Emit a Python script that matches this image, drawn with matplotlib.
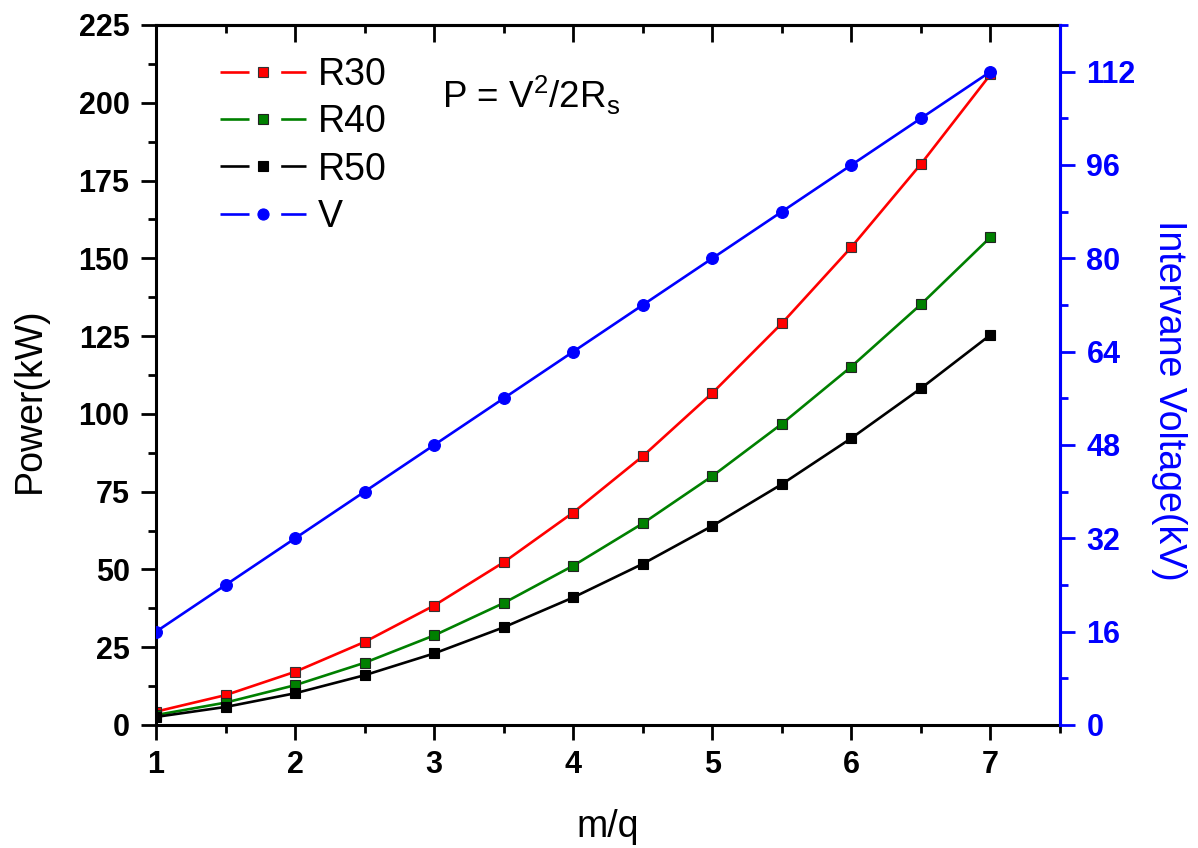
import matplotlib
matplotlib.use("Agg")
import matplotlib.pyplot as plt
from matplotlib.lines import Line2D
from matplotlib.ticker import FixedLocator, MultipleLocator

plt.rcParams['font.family'] = ['Liberation Sans', 'DejaVu Sans']

mq = [1.0, 1.5, 2.0, 2.5, 3.0, 3.5, 4.0, 4.5, 5.0, 5.5, 6.0, 6.5, 7.0]
p_r30 = [4.3, 9.6, 17.1, 26.7, 38.4, 52.3, 68.3, 86.4, 106.7, 129.1, 153.6, 180.3, 209.1]
p_r40 = [3.2, 7.2, 12.8, 20.0, 28.8, 39.2, 51.2, 64.8, 80.0, 96.8, 115.2, 135.2, 156.8]
p_r50 = [2.6, 5.8, 10.2, 16.0, 23.0, 31.4, 41.0, 51.8, 64.0, 77.4, 92.2, 108.2, 125.4]
voltage = [16, 24, 32, 40, 48, 56, 64, 72, 80, 88, 96, 104, 112]

x_major = [1, 2, 3, 4, 5, 6, 7]
x_minor = [1.5, 2.5, 3.5, 4.5, 5.5, 6.5, 7.5]
y_left_ticks = [0, 25, 50, 75, 100, 125, 150, 175, 200, 225]
y_right_ticks = [0, 16, 32, 48, 64, 80, 96, 112]

W, H = 1198, 848
fig = plt.figure(figsize=(W / 100, H / 100), dpi=100)
ax = fig.add_axes([156 / W, (H - 725) / H, (1060 - 156) / W, 700 / H])
ax2 = ax.twinx()

lw = 1.9
series = [
    (ax, p_r30, '#ff0000', '#333333', 's', 7.5, 'R30'),
    (ax, p_r40, '#008000', '#222222', 's', 7.5, 'R40'),
    (ax, p_r50, '#000000', '#000000', 's', 7.5, 'R50'),
    (ax2, voltage, '#0000ff', '#0000ff', 'o', 8.5, 'V'),
]
handles, labels = [], []
for a, vals, c, ec, m, ms, lab in series:
    a.plot(mq, vals, color=c, lw=lw, marker=m, ms=ms, mfc=c, mec=ec, mew=0.8)
    seg = Line2D([], [], color=c, lw=lw, linestyle=(0, (11, 12, 11, 200)))
    mk = Line2D([], [], color=c, lw=0, marker=m, ms=ms - 0.5, mfc=c, mec=ec, mew=0.8)
    handles.append((seg, mk))
    labels.append(lab)

ax.set_xlim(1, 7.5)
ax.set_ylim(0, 225)
ax2.set_ylim(0, 120)

ax.xaxis.set_major_locator(FixedLocator(x_major))
ax.xaxis.set_minor_locator(FixedLocator(x_minor))
ax.yaxis.set_major_locator(FixedLocator(y_left_ticks))
ax.yaxis.set_minor_locator(MultipleLocator(12.5))
ax2.yaxis.set_major_locator(FixedLocator(y_right_ticks))
ax2.yaxis.set_minor_locator(MultipleLocator(8))

ax.tick_params(axis='both', which='major', direction='out', length=11, width=2,
               labelsize=22)
ax.tick_params(axis='y', which='major', pad=8)
ax.tick_params(axis='x', which='major', pad=7)
ax.tick_params(axis='both', which='minor', direction='out', length=6, width=2)
for lbl in ax.get_xticklabels() + ax.get_yticklabels():
    lbl.set_fontweight('bold')

ax2.tick_params(axis='y', which='major', direction='out', length=11, width=2,
                labelsize=22, colors='#0000ff', pad=8)
ax2.tick_params(axis='y', which='minor', direction='out', length=6, width=2,
                colors='#0000ff')
for lbl in ax2.get_yticklabels():
    lbl.set_fontweight('bold')

# top axis: inward ticks, no labels
top = ax.secondary_xaxis('top')
top.xaxis.set_major_locator(FixedLocator(x_major))
top.xaxis.set_minor_locator(FixedLocator(x_minor))
top.tick_params(which='major', direction='in', length=12, width=2, labeltop=False)
top.tick_params(which='minor', direction='in', length=6, width=2)
top.spines['top'].set_linewidth(2.2)

for s in ax.spines.values():
    s.set_linewidth(2.2)
for s in ax2.spines.values():
    s.set_linewidth(2.2)
ax2.spines['right'].set_color('#0000ff')
ax2.spines['left'].set_visible(False)
ax2.spines['top'].set_visible(False)
ax2.spines['bottom'].set_visible(False)

ax.set_xlabel('m/q', fontsize=27, labelpad=21)
ax.set_ylabel('Power(kW)', fontsize=27, labelpad=22, y=0.464)
ax2.set_ylabel('Intervane Voltage(kV)', fontsize=27, color='#0000ff',
               rotation=270, labelpad=37, y=0.464)

ax.text(3.06, 202.5, r'P = V$^\mathregular{2}$/2R$_\mathregular{s}$', fontsize=26.5,
        ha='left', va='center')

ax2.legend(handles=handles, labels=labels, loc='upper left', frameon=False,
           fontsize=27, handlelength=2.3, handletextpad=0.3,
           labelspacing=0.3, borderaxespad=0.0, borderpad=0.0,
           bbox_to_anchor=(64 / 904, 1 - 32 / 700))

fig.savefig('out.png', dpi=100)
